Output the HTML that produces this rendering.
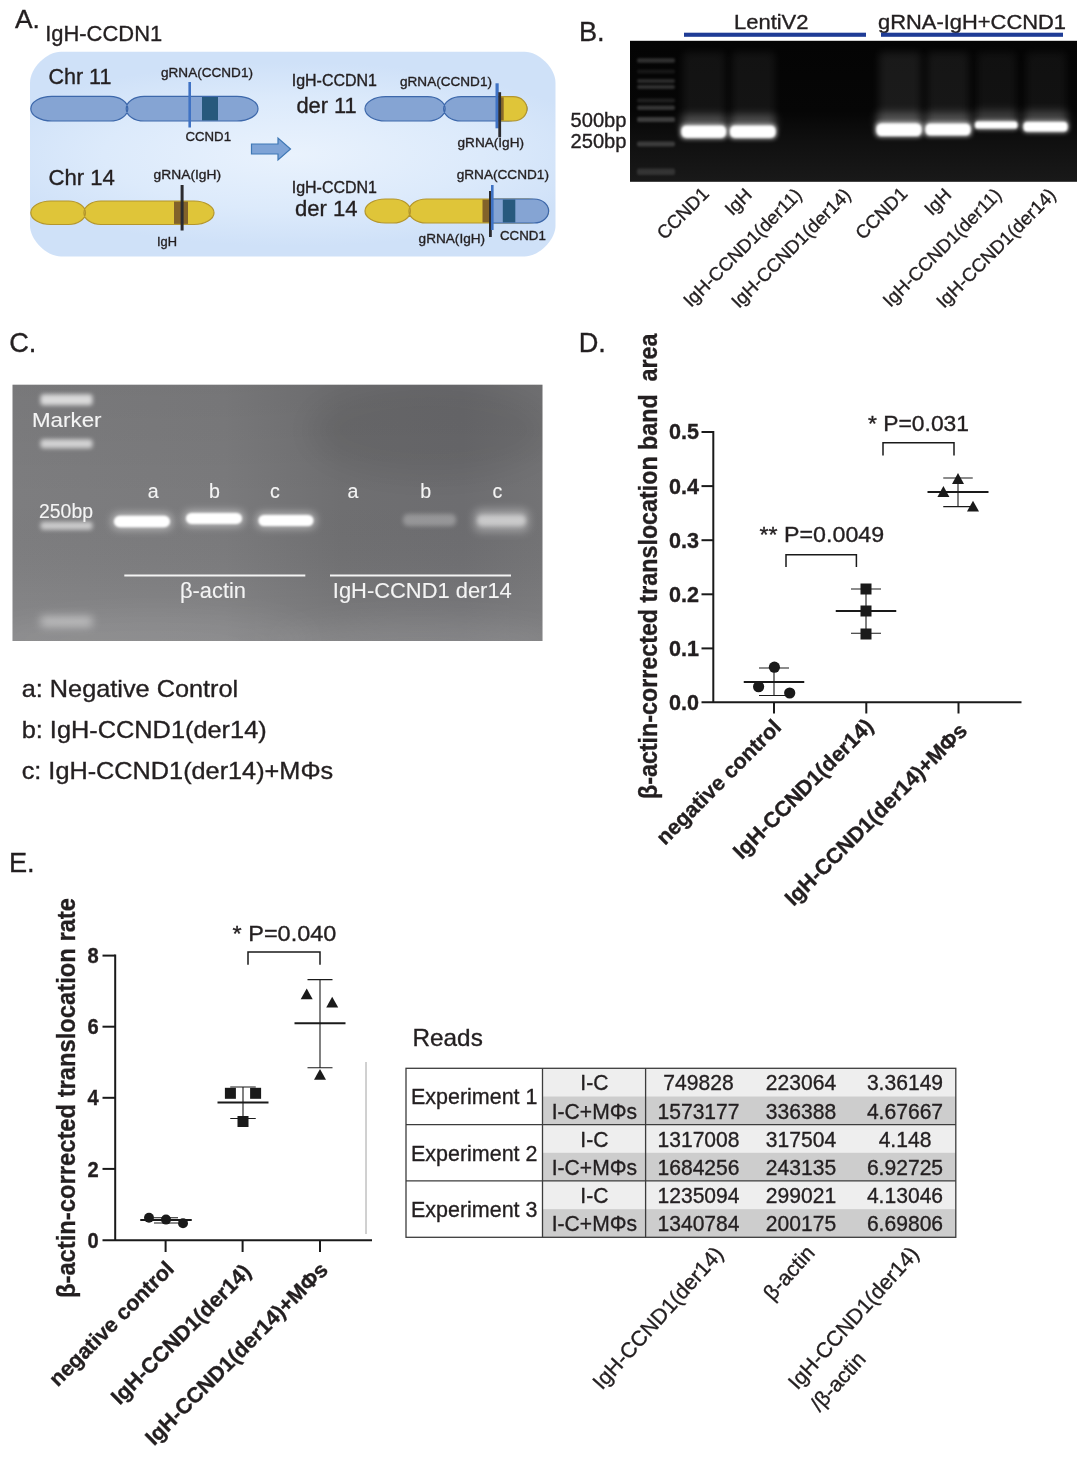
<!DOCTYPE html>
<html lang="en"><head><meta charset="utf-8"><title>IgH-CCND1 translocation figure</title>
<style>
html,body{margin:0;padding:0;background:#fff;}
svg{display:block;font-family:"Liberation Sans",sans-serif;}
</style></head><body>
<svg width="1080" height="1458" viewBox="0 0 1080 1458">
<defs>
<radialGradient id="boxg" cx="50%" cy="50%" r="60%" gradientTransform="translate(0.5 0.5) scale(1 0.75) translate(-0.5 -0.5)">
<stop offset="0" stop-color="#e9f2fd"/><stop offset="0.6" stop-color="#dceafb"/><stop offset="1" stop-color="#cfe1f8"/></radialGradient>
<filter id="b1" x="-20%" y="-100%" width="140%" height="300%"><feGaussianBlur stdDeviation="1.2"/></filter>
<filter id="b2" x="-20%" y="-150%" width="140%" height="400%"><feGaussianBlur stdDeviation="2.2"/></filter>
<filter id="b3" x="-30%" y="-200%" width="160%" height="500%"><feGaussianBlur stdDeviation="4"/></filter>
<filter id="b6" x="-30%" y="-300%" width="160%" height="700%"><feGaussianBlur stdDeviation="7"/></filter>
<filter id="b12" x="-50%" y="-50%" width="200%" height="200%"><feGaussianBlur stdDeviation="14"/></filter>
<linearGradient id="gelc" x1="0" y1="0" x2="1" y2="0">
<stop offset="0" stop-color="#7d7d7f"/><stop offset="0.4" stop-color="#7a7a7c"/><stop offset="0.62" stop-color="#6f6f71"/><stop offset="0.85" stop-color="#6d6d70"/><stop offset="1" stop-color="#737375"/></linearGradient>
<linearGradient id="gelcv" x1="0" y1="0" x2="0" y2="1">
<stop offset="0" stop-color="#000" stop-opacity="0.04"/><stop offset="0.45" stop-color="#000" stop-opacity="0"/><stop offset="0.8" stop-color="#fff" stop-opacity="0.04"/><stop offset="1" stop-color="#fff" stop-opacity="0.09"/></linearGradient>
<linearGradient id="gelb" x1="0" y1="0" x2="0" y2="1">
<stop offset="0" stop-color="#040404"/><stop offset="0.5" stop-color="#060606"/><stop offset="0.72" stop-color="#101010"/><stop offset="1" stop-color="#191919"/></linearGradient>
<clipPath id="clipB"><rect x="630" y="40.8" width="447" height="141"/></clipPath>
<clipPath id="clipC"><rect x="12.5" y="384.7" width="530" height="256.3"/></clipPath>
</defs>
<rect width="1080" height="1458" fill="#ffffff"/>

<g id="panelA">
<text x="15" y="27.8" font-size="26.4" fill="#231f20" stroke="#231f20" stroke-width="0.35">A.</text>
<text x="45.2" y="40.7" font-size="22.3" fill="#231f20" stroke="#231f20" stroke-width="0.35" textLength="117" lengthAdjust="spacingAndGlyphs">IgH-CCDN1</text>
<path d="M61,51.7 L524.5,51.7 C539.07,51.7 555.5,68.13000000000001 555.5,82.7 L555.5,225.39999999999998 C555.5,239.96999999999997 539.07,256.4 524.5,256.4 L61,256.4 C46.43,256.4 30,239.96999999999997 30,225.39999999999998 L30,82.7 C30,68.13000000000001 46.43,51.7 61,51.7 Z" fill="url(#boxg)"/>
<text x="48.4" y="84.2" font-size="22.3" fill="#231f20" stroke="#231f20" stroke-width="0.35" textLength="63" lengthAdjust="spacingAndGlyphs">Chr 11</text>
<text x="161" y="77.2" font-size="13.5" fill="#231f20" stroke="#231f20" stroke-width="0.35" textLength="92" lengthAdjust="spacingAndGlyphs">gRNA(CCND1)</text>
<path d="M51.80,96.3 L109.89,96.3 C119.78,96.3 127.80,101.83 127.80,108.65 C127.80,115.47 119.78,121 109.89,121 L51.80,121 C40.20,121 30.80,115.47 30.80,108.65 C30.80,101.83 40.20,96.3 51.80,96.3 Z M144.11,96.3 L237.00,96.3 C248.60,96.3 258.00,101.83 258.00,108.65 C258.00,115.47 248.60,121 237.00,121 L144.11,121 C134.22,121 126.20,115.47 126.20,108.65 C126.20,101.83 134.22,96.3 144.11,96.3 Z" fill="#85a4d3" stroke="#3d68ab" stroke-width="1.2"/>
<rect x="202" y="97" width="16" height="23.4" fill="#27597d"/>
<rect x="188.4" y="82" width="2.6" height="45.5" fill="#3f72c4"/>
<text x="185.5" y="141" font-size="13.5" fill="#231f20" stroke="#231f20" stroke-width="0.35" textLength="45.5" lengthAdjust="spacingAndGlyphs">CCND1</text>
<path d="M251.5,144 L278,144 L278,138 L290.5,149 L278,160 L278,154 L251.5,154 Z" fill="#7ea3d6" stroke="#3f78b5" stroke-width="1.2"/>
<text x="48.4" y="185" font-size="22.3" fill="#231f20" stroke="#231f20" stroke-width="0.35" textLength="66.5" lengthAdjust="spacingAndGlyphs">Chr 14</text>
<text x="153.6" y="178.6" font-size="13.5" fill="#231f20" stroke="#231f20" stroke-width="0.35" textLength="67.5" lengthAdjust="spacingAndGlyphs">gRNA(IgH)</text>
<path d="M50.77,201 L68.46,201 C77.87,201 85.50,206.26 85.50,212.75 C85.50,219.24 77.87,224.5 68.46,224.5 L50.77,224.5 C39.74,224.5 30.80,219.24 30.80,212.75 C30.80,206.26 39.74,201 50.77,201 Z M100.94,201 L194.03,201 C205.06,201 214.00,206.26 214.00,212.75 C214.00,219.24 205.06,224.5 194.03,224.5 L100.94,224.5 C91.53,224.5 83.90,219.24 83.90,212.75 C83.90,206.26 91.53,201 100.94,201 Z" fill="#dfc539" stroke="#b4962c" stroke-width="1.2"/>
<rect x="174" y="201.6" width="14" height="22.3" fill="#82622a"/>
<rect x="180.6" y="185" width="3" height="45.5" fill="#2b2b2f"/>
<text x="157" y="246" font-size="13.5" fill="#231f20" stroke="#231f20" stroke-width="0.35" textLength="20" lengthAdjust="spacingAndGlyphs">IgH</text>
<text x="291.7" y="85.5" font-size="16" fill="#231f20" stroke="#231f20" stroke-width="0.35" textLength="85.3" lengthAdjust="spacingAndGlyphs">IgH-CCDN1</text>
<text x="296.4" y="113.3" font-size="21.5" fill="#231f20" stroke="#231f20" stroke-width="0.35" textLength="60.3" lengthAdjust="spacingAndGlyphs">der 11</text>
<text x="400" y="85.5" font-size="13.5" fill="#231f20" stroke="#231f20" stroke-width="0.35" textLength="92" lengthAdjust="spacingAndGlyphs">gRNA(CCND1)</text>
<path d="M385.65,96.7 L427.58,96.7 C437.31,96.7 445.20,102.14 445.20,108.85 C445.20,115.56 437.31,121 427.58,121 L385.65,121 C374.25,121 365.00,115.56 365.00,108.85 C365.00,102.14 374.25,96.7 385.65,96.7 Z M461.22,96.7 L506.35,96.7 C517.75,96.7 527.00,102.14 527.00,108.85 C527.00,115.56 517.75,121 506.35,121 L461.22,121 C451.49,121 443.60,115.56 443.60,108.85 C443.60,102.14 451.49,96.7 461.22,96.7 Z" fill="#85a4d3" stroke="#3d68ab" stroke-width="1.2"/>
<path d="M500,96.7 L513,96.7 C522,96.7 527,103 527,108.85 C527,114.7 522,121 513,121 L500,121 Z" fill="#dfc539" stroke="#b4962c" stroke-width="1.2"/>
<rect x="500.5" y="97.3" width="3.2" height="23.1" fill="#8a6a2a"/>
<rect x="495.5" y="83.3" width="3.2" height="45" fill="#3f72c4"/>
<rect x="498.3" y="92.2" width="2.8" height="45" fill="#2b2b2f"/>
<text x="457.5" y="147" font-size="13.5" fill="#231f20" stroke="#231f20" stroke-width="0.35" textLength="66.5" lengthAdjust="spacingAndGlyphs">gRNA(IgH)</text>
<text x="456.7" y="178.6" font-size="13.5" fill="#231f20" stroke="#231f20" stroke-width="0.35" textLength="92.3" lengthAdjust="spacingAndGlyphs">gRNA(CCND1)</text>
<text x="291.7" y="192.5" font-size="16" fill="#231f20" stroke="#231f20" stroke-width="0.35" textLength="85.3" lengthAdjust="spacingAndGlyphs">IgH-CCDN1</text>
<text x="295" y="215.5" font-size="21.5" fill="#231f20" stroke="#231f20" stroke-width="0.35" textLength="62.5" lengthAdjust="spacingAndGlyphs">der 14</text>
<path d="M385.40,199 L393.10,199 C402.71,199 410.50,204.37 410.50,211.0 C410.50,217.63 402.71,223 393.10,223 L385.40,223 C374.13,223 365.00,217.63 365.00,211.0 C365.00,204.37 374.13,199 385.40,199 Z M426.30,199 L528.20,199 C539.47,199 548.60,204.37 548.60,211.0 C548.60,217.63 539.47,223 528.20,223 L426.30,223 C416.69,223 408.90,217.63 408.90,211.0 C408.90,204.37 416.69,199 426.30,199 Z" fill="#dfc539" stroke="#b4962c" stroke-width="1.2"/>
<path d="M492,199 L534,199 C543,199 548.6,205 548.6,211 C548.6,217 543,223 534,223 L492,223 Z" fill="#85a4d3" stroke="#3d68ab" stroke-width="1.2"/>
<rect x="502.8" y="199.6" width="12.5" height="22.8" fill="#27597d"/>
<rect x="482.5" y="199.6" width="7" height="22.8" fill="#82622a"/>
<rect x="489" y="191" width="2.8" height="46" fill="#2b2b2f"/>
<rect x="491" y="185" width="2.6" height="45" fill="#3f72c4"/>
<text x="418.6" y="242.5" font-size="13.5" fill="#231f20" stroke="#231f20" stroke-width="0.35" textLength="66.5" lengthAdjust="spacingAndGlyphs">gRNA(IgH)</text>
<text x="500" y="239.7" font-size="13.5" fill="#231f20" stroke="#231f20" stroke-width="0.35" textLength="45.8" lengthAdjust="spacingAndGlyphs">CCND1</text>
</g>
<g id="panelB">
<text x="578.9" y="40.9" font-size="27.2" fill="#231f20" stroke="#231f20" stroke-width="0.35">B.</text>
<text x="734" y="28.8" font-size="20.6" fill="#231f20" stroke="#231f20" stroke-width="0.35" textLength="74.5" lengthAdjust="spacingAndGlyphs">LentiV2</text>
<text x="878" y="28.6" font-size="20.6" fill="#231f20" stroke="#231f20" stroke-width="0.35" textLength="188" lengthAdjust="spacingAndGlyphs">gRNA-IgH+CCND1</text>
<rect x="684" y="32.7" width="182" height="4.1" fill="#1f3c96"/>
<rect x="881" y="32.7" width="182" height="4.1" fill="#1f3c96"/>
<text x="570.5" y="127" font-size="19.6" fill="#231f20" stroke="#231f20" stroke-width="0.35" textLength="56" lengthAdjust="spacingAndGlyphs">500bp</text>
<text x="570.5" y="147.8" font-size="19.6" fill="#231f20" stroke="#231f20" stroke-width="0.35" textLength="56" lengthAdjust="spacingAndGlyphs">250bp</text>
<rect x="630" y="40.8" width="447" height="141" fill="url(#gelb)"/>
<g clip-path="url(#clipB)">
<rect x="683" y="52" width="42" height="78" fill="#fff" opacity="0.06" filter="url(#b3)"/>
<rect x="732" y="52" width="43" height="78" fill="#fff" opacity="0.06" filter="url(#b3)"/>
<rect x="879" y="52" width="42" height="78" fill="#fff" opacity="0.085" filter="url(#b3)"/>
<rect x="927" y="52" width="42" height="78" fill="#fff" opacity="0.07" filter="url(#b3)"/>
<rect x="977" y="52" width="39" height="78" fill="#fff" opacity="0.05" filter="url(#b3)"/>
<rect x="1026" y="52" width="40" height="78" fill="#fff" opacity="0.05" filter="url(#b3)"/>
<rect x="637" y="58.25" width="38" height="4.5" rx="2" fill="#fff" opacity="0.17" filter="url(#b1)"/>
<rect x="637" y="69.5" width="38" height="4" rx="2" fill="#fff" opacity="0.07" filter="url(#b1)"/>
<rect x="637" y="79.0" width="38" height="4" rx="2" fill="#fff" opacity="0.15" filter="url(#b1)"/>
<rect x="637" y="85.0" width="38" height="4" rx="2" fill="#fff" opacity="0.17" filter="url(#b1)"/>
<rect x="637" y="98.5" width="38" height="4" rx="2" fill="#fff" opacity="0.1" filter="url(#b1)"/>
<rect x="637" y="105.55" width="38" height="4.5" rx="2" fill="#fff" opacity="0.19" filter="url(#b1)"/>
<rect x="637" y="116.9" width="38" height="5" rx="2" fill="#fff" opacity="0.21" filter="url(#b1)"/>
<rect x="637" y="141.5" width="38" height="5" rx="2" fill="#fff" opacity="0.18" filter="url(#b1)"/>
<rect x="637" y="168.45" width="38" height="6.5" rx="2" fill="#fff" opacity="0.12" filter="url(#b1)"/>
<rect x="681.5" y="114.69999999999999" width="44.5" height="17.0" rx="4" fill="#fff" opacity="0.24" filter="url(#b3)"/>
<rect x="680.0" y="124.19999999999999" width="47.5" height="15" rx="5" fill="#fff" opacity="0.60" filter="url(#b2)"/>
<rect x="681.5" y="125.69999999999999" width="44.5" height="12" rx="5.0" fill="#fff" filter="url(#b1)"/>
<rect x="730" y="114.69999999999999" width="45.5" height="17.0" rx="4" fill="#fff" opacity="0.24" filter="url(#b3)"/>
<rect x="728.5" y="124.19999999999999" width="48.5" height="15" rx="5" fill="#fff" opacity="0.60" filter="url(#b2)"/>
<rect x="730" y="125.69999999999999" width="45.5" height="12" rx="5.0" fill="#fff" filter="url(#b1)"/>
<rect x="876.5" y="112.55000000000001" width="45.0" height="17.25" rx="4" fill="#fff" opacity="0.24" filter="url(#b3)"/>
<rect x="875.0" y="122.05000000000001" width="48.0" height="15.5" rx="5" fill="#fff" opacity="0.60" filter="url(#b2)"/>
<rect x="876.5" y="123.55000000000001" width="45.0" height="12.5" rx="5.2" fill="#fff" filter="url(#b1)"/>
<rect x="925.5" y="112.85" width="45.0" height="16.75" rx="4" fill="#fff" opacity="0.24" filter="url(#b3)"/>
<rect x="924.0" y="122.35" width="48.0" height="14.5" rx="5" fill="#fff" opacity="0.60" filter="url(#b2)"/>
<rect x="925.5" y="123.85" width="45.0" height="11.5" rx="4.8" fill="#fff" filter="url(#b1)"/>
<rect x="975" y="110.6" width="42.5" height="14.5" rx="4" fill="#fff" opacity="0.18" filter="url(#b3)"/>
<rect x="973.5" y="120.1" width="45.5" height="10" rx="5" fill="#fff" opacity="0.45" filter="url(#b2)"/>
<rect x="975" y="121.6" width="42.5" height="7" rx="2.9" fill="#fff" filter="url(#b1)"/>
<rect x="1023.5" y="111.05" width="44.0" height="15.75" rx="4" fill="#fff" opacity="0.21" filter="url(#b3)"/>
<rect x="1022.0" y="120.55" width="47.0" height="12.5" rx="5" fill="#fff" opacity="0.52" filter="url(#b2)"/>
<rect x="1023.5" y="122.05" width="44.0" height="9.5" rx="4.0" fill="#fff" filter="url(#b1)"/>
</g>
<text x="710" y="195" font-size="18.7" fill="#231f20" stroke="#231f20" stroke-width="0.35" text-anchor="end" transform="rotate(-45 710 195)">CCND1</text>
<text x="753" y="196" font-size="18.7" fill="#231f20" stroke="#231f20" stroke-width="0.35" text-anchor="end" transform="rotate(-45 753 196)">IgH</text>
<text x="803" y="196" font-size="18.7" fill="#231f20" stroke="#231f20" stroke-width="0.35" text-anchor="end" transform="rotate(-45 803 196)">IgH-CCND1(der11)</text>
<text x="852" y="196" font-size="18.7" fill="#231f20" stroke="#231f20" stroke-width="0.35" text-anchor="end" transform="rotate(-45 852 196)">IgH-CCND1(der14)</text>
<text x="908.5" y="195" font-size="18.7" fill="#231f20" stroke="#231f20" stroke-width="0.35" text-anchor="end" transform="rotate(-45 908.5 195)">CCND1</text>
<text x="952.5" y="196" font-size="18.7" fill="#231f20" stroke="#231f20" stroke-width="0.35" text-anchor="end" transform="rotate(-45 952.5 196)">IgH</text>
<text x="1002.6" y="196" font-size="18.7" fill="#231f20" stroke="#231f20" stroke-width="0.35" text-anchor="end" transform="rotate(-45 1002.6 196)">IgH-CCND1(der11)</text>
<text x="1057" y="196" font-size="18.7" fill="#231f20" stroke="#231f20" stroke-width="0.35" text-anchor="end" transform="rotate(-45 1057 196)">IgH-CCND1(der14)</text>
</g>
<g id="panelC">
<text x="9.2" y="351.8" font-size="27.2" fill="#231f20" stroke="#231f20" stroke-width="0.35">C.</text>
<rect x="12.5" y="384.7" width="530" height="256.3" fill="url(#gelc)"/>
<rect x="12.5" y="384.7" width="530" height="256.3" fill="url(#gelcv)"/>
<g clip-path="url(#clipC)">
<ellipse cx="430" cy="430" rx="120" ry="45" fill="#000" opacity="0.06" filter="url(#b12)"/>
<ellipse cx="150" cy="640" rx="160" ry="30" fill="#fff" opacity="0.06" filter="url(#b12)"/>
<ellipse cx="420" cy="645" rx="140" ry="25" fill="#fff" opacity="0.08" filter="url(#b12)"/>
<rect x="40.5" y="394.3" width="52" height="11" rx="3" fill="#fff" opacity="0.72" filter="url(#b2)"/>
<rect x="40.5" y="439.3" width="52" height="9" rx="3" fill="#fff" opacity="0.66" filter="url(#b2)"/>
<rect x="40.5" y="521.8" width="52" height="8" rx="3" fill="#fff" opacity="0.6" filter="url(#b2)"/>
<rect x="40.5" y="615.9" width="52" height="11" rx="3" fill="#fff" opacity="0.42" filter="url(#b3)"/>
<rect x="112" y="513.75" width="60" height="15.5" rx="6" fill="#fff" opacity="0.5" filter="url(#b3)"/>
<rect x="114" y="515.75" width="56" height="11.5" rx="5.75" fill="#fff" filter="url(#b1)"/>
<rect x="184" y="510.9" width="60" height="15" rx="6" fill="#fff" opacity="0.5" filter="url(#b3)"/>
<rect x="186" y="512.9" width="56" height="11" rx="5.5" fill="#fff" filter="url(#b1)"/>
<rect x="256.5" y="513.0" width="59.0" height="15" rx="6" fill="#fff" opacity="0.5" filter="url(#b3)"/>
<rect x="258.5" y="515.0" width="55.0" height="11" rx="5.5" fill="#fff" filter="url(#b1)"/>
<rect x="403" y="514" width="53" height="12" rx="5" fill="#fff" opacity="0.28" filter="url(#b2)"/>
<rect x="474" y="509" width="55" height="23" rx="7" fill="#fff" opacity="0.32" filter="url(#b3)"/>
<rect x="477" y="515" width="49" height="11" rx="5" fill="#fff" opacity="0.45" filter="url(#b2)"/>
</g>
<text x="32" y="427" font-size="20.6" fill="#f4f4f4" stroke="#f4f4f4" stroke-width="0.12" textLength="69.5" lengthAdjust="spacingAndGlyphs">Marker</text>
<text x="39" y="517.8" font-size="19.6" fill="#f4f4f4" stroke="#f4f4f4" stroke-width="0.12" textLength="54" lengthAdjust="spacingAndGlyphs">250bp</text>
<text x="153.3" y="497.8" font-size="19.6" fill="#f4f4f4" stroke="#f4f4f4" stroke-width="0.12" text-anchor="middle">a</text>
<text x="214.4" y="497.8" font-size="19.6" fill="#f4f4f4" stroke="#f4f4f4" stroke-width="0.12" text-anchor="middle">b</text>
<text x="275" y="497.8" font-size="19.6" fill="#f4f4f4" stroke="#f4f4f4" stroke-width="0.12" text-anchor="middle">c</text>
<text x="353" y="497.8" font-size="19.6" fill="#f4f4f4" stroke="#f4f4f4" stroke-width="0.12" text-anchor="middle">a</text>
<text x="425.8" y="497.8" font-size="19.6" fill="#f4f4f4" stroke="#f4f4f4" stroke-width="0.12" text-anchor="middle">b</text>
<text x="497.5" y="497.8" font-size="19.6" fill="#f4f4f4" stroke="#f4f4f4" stroke-width="0.12" text-anchor="middle">c</text>
<rect x="124.3" y="574.5" width="181" height="2" fill="#f4f4f4"/>
<rect x="330" y="574.5" width="181" height="2" fill="#f4f4f4"/>
<text x="180" y="597.8" font-size="21.8" fill="#f4f4f4" stroke="#f4f4f4" stroke-width="0.12" textLength="66" lengthAdjust="spacingAndGlyphs">β-actin</text>
<text x="332.8" y="598.3" font-size="21.8" fill="#f4f4f4" stroke="#f4f4f4" stroke-width="0.12" textLength="179" lengthAdjust="spacingAndGlyphs">IgH-CCND1 der14</text>
<text x="21.7" y="697.3" font-size="24" fill="#231f20" stroke="#231f20" stroke-width="0.35" textLength="216.5" lengthAdjust="spacingAndGlyphs">a: Negative Control</text>
<text x="21.7" y="738.3" font-size="24" fill="#231f20" stroke="#231f20" stroke-width="0.35" textLength="245" lengthAdjust="spacingAndGlyphs">b: IgH-CCND1(der14)</text>
<text x="21.7" y="779.3" font-size="24" fill="#231f20" stroke="#231f20" stroke-width="0.35" textLength="311.5" lengthAdjust="spacingAndGlyphs">c: IgH-CCND1(der14)+MΦs</text>
</g>
<g id="panelD">
<text x="578.7" y="351.9" font-size="27.2" fill="#231f20" stroke="#231f20" stroke-width="0.35">D.</text>
<path d="M713.3,431 L713.3,702.3 M701.5,702.3 L1021.5,702.3" stroke="#1a1a1a" stroke-width="2" fill="none"/>
<path d="M701.5,432.0 L713.3,432.0" stroke="#1a1a1a" stroke-width="2"/>
<text x="699" y="439.4" font-size="21.2" font-weight="bold" fill="#231f20" stroke="#231f20" stroke-width="0.35" text-anchor="end" textLength="30" lengthAdjust="spacingAndGlyphs">0.5</text>
<path d="M701.5,486.1 L713.3,486.1" stroke="#1a1a1a" stroke-width="2"/>
<text x="699" y="493.5" font-size="21.2" font-weight="bold" fill="#231f20" stroke="#231f20" stroke-width="0.35" text-anchor="end" textLength="30" lengthAdjust="spacingAndGlyphs">0.4</text>
<path d="M701.5,540.2 L713.3,540.2" stroke="#1a1a1a" stroke-width="2"/>
<text x="699" y="547.6" font-size="21.2" font-weight="bold" fill="#231f20" stroke="#231f20" stroke-width="0.35" text-anchor="end" textLength="30" lengthAdjust="spacingAndGlyphs">0.3</text>
<path d="M701.5,594.3 L713.3,594.3" stroke="#1a1a1a" stroke-width="2"/>
<text x="699" y="601.7" font-size="21.2" font-weight="bold" fill="#231f20" stroke="#231f20" stroke-width="0.35" text-anchor="end" textLength="30" lengthAdjust="spacingAndGlyphs">0.2</text>
<path d="M701.5,648.4 L713.3,648.4" stroke="#1a1a1a" stroke-width="2"/>
<text x="699" y="655.8" font-size="21.2" font-weight="bold" fill="#231f20" stroke="#231f20" stroke-width="0.35" text-anchor="end" textLength="30" lengthAdjust="spacingAndGlyphs">0.1</text>
<text x="699" y="709.9" font-size="21.2" font-weight="bold" fill="#231f20" stroke="#231f20" stroke-width="0.35" text-anchor="end" textLength="30" lengthAdjust="spacingAndGlyphs">0.0</text>
<path d="M774,702.3 L774,713.5" stroke="#1a1a1a" stroke-width="2"/>
<path d="M866.3,702.3 L866.3,713.5" stroke="#1a1a1a" stroke-width="2"/>
<path d="M958.5,702.3 L958.5,713.5" stroke="#1a1a1a" stroke-width="2"/>
<text x="657" y="799" font-size="25.8" font-weight="bold" fill="#231f20" stroke="#231f20" stroke-width="0.35" textLength="465.5" lengthAdjust="spacingAndGlyphs" transform="rotate(-90 657 799)" xml:space="preserve">β-actin-corrected translocation band  area</text>
<path d="M774,668 L774,695.5 M759.0,668 L789.0,668 M759.0,695.5 L789.0,695.5" stroke="#1a1a1a" stroke-width="1.1" fill="none"/>
<path d="M743.75,682 L804.25,682" stroke="#1a1a1a" stroke-width="2" fill="none"/>
<circle cx="774.4" cy="667.2" r="5.6" fill="#1a1a1a"/>
<circle cx="758.6" cy="686.7" r="5.6" fill="#1a1a1a"/>
<circle cx="789.7" cy="693" r="5.6" fill="#1a1a1a"/>
<path d="M866,589 L866,633.3 M851.0,589 L881.0,589 M851.0,633.3 L881.0,633.3" stroke="#1a1a1a" stroke-width="1.1" fill="none"/>
<path d="M835.75,611 L896.25,611" stroke="#1a1a1a" stroke-width="2" fill="none"/>
<rect x="860.5" y="583.5" width="11" height="11" fill="#1a1a1a"/>
<rect x="860.5" y="605.5" width="11" height="11" fill="#1a1a1a"/>
<rect x="860.5" y="628.5" width="11" height="11" fill="#1a1a1a"/>
<path d="M958,478 L958,506.6 M943.25,478 L972.75,478 M943.25,506.6 L972.75,506.6" stroke="#1a1a1a" stroke-width="1.1" fill="none"/>
<path d="M927.5,492 L988.5,492" stroke="#1a1a1a" stroke-width="2" fill="none"/>
<path d="M958,473.1 L964.0,483.9 L952.0,483.9 Z" fill="#1a1a1a"/>
<path d="M943.4,486.1 L949.4,496.9 L937.4,496.9 Z" fill="#1a1a1a"/>
<path d="M973,500.7 L979.0,511.5 L967.0,511.5 Z" fill="#1a1a1a"/>
<path d="M786,567 L786,554.7 L856.4,554.7 L856.4,567" stroke="#1a1a1a" stroke-width="1.5" fill="none"/>
<path d="M883,455.6 L883,442.7 L954,442.7 L954,455.6" stroke="#1a1a1a" stroke-width="1.5" fill="none"/>
<text x="759.6" y="542" font-size="22.3" fill="#231f20" stroke="#231f20" stroke-width="0.35" textLength="124.5" lengthAdjust="spacingAndGlyphs">** P=0.0049</text>
<text x="868" y="431" font-size="22.3" fill="#231f20" stroke="#231f20" stroke-width="0.35" textLength="101" lengthAdjust="spacingAndGlyphs">* P=0.031</text>
<text x="782.5" y="728.5" font-size="21.5" font-weight="bold" fill="#231f20" stroke="#231f20" stroke-width="0.35" text-anchor="end" transform="rotate(-45 782.5 728.5)">negative control</text>
<text x="874.5" y="727.5" font-size="21.5" font-weight="bold" fill="#231f20" stroke="#231f20" stroke-width="0.35" text-anchor="end" transform="rotate(-45 874.5 727.5)">IgH-CCND1(der14)</text>
<text x="968.5" y="732" font-size="21.5" font-weight="bold" fill="#231f20" stroke="#231f20" stroke-width="0.35" text-anchor="end" transform="rotate(-45 968.5 732)">IgH-CCND1(der14)+MΦs</text>
</g>
<g id="panelE">
<text x="8.9" y="871.9" font-size="27.2" fill="#231f20" stroke="#231f20" stroke-width="0.35">E.</text>
<path d="M115.2,954.6 L115.2,1240.3 M102.5,1240.3 L372,1240.3" stroke="#1a1a1a" stroke-width="2" fill="none"/>
<path d="M102.5,955.6 L115.2,955.6" stroke="#1a1a1a" stroke-width="2"/>
<text x="98.6" y="963.2" font-size="22" font-weight="bold" fill="#231f20" stroke="#231f20" stroke-width="0.35" text-anchor="end" textLength="11.2" lengthAdjust="spacingAndGlyphs">8</text>
<path d="M102.5,1026.7 L115.2,1026.7" stroke="#1a1a1a" stroke-width="2"/>
<text x="98.6" y="1034.3" font-size="22" font-weight="bold" fill="#231f20" stroke="#231f20" stroke-width="0.35" text-anchor="end" textLength="11.2" lengthAdjust="spacingAndGlyphs">6</text>
<path d="M102.5,1097.8 L115.2,1097.8" stroke="#1a1a1a" stroke-width="2"/>
<text x="98.6" y="1105.4" font-size="22" font-weight="bold" fill="#231f20" stroke="#231f20" stroke-width="0.35" text-anchor="end" textLength="11.2" lengthAdjust="spacingAndGlyphs">4</text>
<path d="M102.5,1168.9 L115.2,1168.9" stroke="#1a1a1a" stroke-width="2"/>
<text x="98.6" y="1176.5" font-size="22" font-weight="bold" fill="#231f20" stroke="#231f20" stroke-width="0.35" text-anchor="end" textLength="11.2" lengthAdjust="spacingAndGlyphs">2</text>
<text x="98.6" y="1247.6" font-size="22" font-weight="bold" fill="#231f20" stroke="#231f20" stroke-width="0.35" text-anchor="end" textLength="11.2" lengthAdjust="spacingAndGlyphs">0</text>
<path d="M165.6,1240.3 L165.6,1252" stroke="#1a1a1a" stroke-width="2"/>
<path d="M242.6,1240.3 L242.6,1252" stroke="#1a1a1a" stroke-width="2"/>
<path d="M320,1240.3 L320,1252" stroke="#1a1a1a" stroke-width="2"/>
<text x="75.3" y="1298" font-size="25.6" font-weight="bold" fill="#231f20" stroke="#231f20" stroke-width="0.35" textLength="400" lengthAdjust="spacingAndGlyphs" transform="rotate(-90 75.3 1298)">β-actin-corrected translocation rate</text>
<path d="M366,1062 L366,1234" stroke="#8c8c8c" stroke-width="0.8"/>
<path d="M166,1217.8 L166,1223 M154.0,1217.8 L178.0,1217.8 M154.0,1223 L178.0,1223" stroke="#1a1a1a" stroke-width="1.1" fill="none"/>
<path d="M140.25,1220 L191.75,1220" stroke="#1a1a1a" stroke-width="2" fill="none"/>
<circle cx="149" cy="1217.8" r="5" fill="#1a1a1a"/>
<circle cx="166" cy="1219.6" r="5" fill="#1a1a1a"/>
<circle cx="183" cy="1223.3" r="5" fill="#1a1a1a"/>
<path d="M243,1087 L243,1118.5 M230.25,1087 L255.75,1087 M230.25,1118.5 L255.75,1118.5" stroke="#1a1a1a" stroke-width="1.1" fill="none"/>
<path d="M217.5,1102.6 L268.5,1102.6" stroke="#1a1a1a" stroke-width="2" fill="none"/>
<rect x="224.9" y="1087.8" width="11" height="11" fill="#1a1a1a"/>
<rect x="250.1" y="1087.8" width="11" height="11" fill="#1a1a1a"/>
<rect x="237.5" y="1116.0" width="11" height="11" fill="#1a1a1a"/>
<path d="M320,979.6 L320,1067.8 M307.5,979.6 L332.5,979.6 M307.5,1067.8 L332.5,1067.8" stroke="#1a1a1a" stroke-width="1.1" fill="none"/>
<path d="M294.5,1023.3 L345.5,1023.3" stroke="#1a1a1a" stroke-width="2" fill="none"/>
<path d="M306.7,988.5 L312.7,999.3 L300.7,999.3 Z" fill="#1a1a1a"/>
<path d="M332.2,996.7 L338.2,1007.5 L326.2,1007.5 Z" fill="#1a1a1a"/>
<path d="M320,1068.9 L326.0,1079.7 L314.0,1079.7 Z" fill="#1a1a1a"/>
<path d="M248,964.8 L248,951.9 L320,951.9 L320,964.8" stroke="#1a1a1a" stroke-width="1.5" fill="none"/>
<text x="232.6" y="940.7" font-size="22.3" fill="#231f20" stroke="#231f20" stroke-width="0.35" textLength="103.7" lengthAdjust="spacingAndGlyphs">* P=0.040</text>
<text x="175.3" y="1270.2" font-size="21.5" font-weight="bold" fill="#231f20" stroke="#231f20" stroke-width="0.35" text-anchor="end" transform="rotate(-45 175.3 1270.2)">negative control</text>
<text x="252.4" y="1273" font-size="21.5" font-weight="bold" fill="#231f20" stroke="#231f20" stroke-width="0.35" text-anchor="end" transform="rotate(-45 252.4 1273)">IgH-CCND1(der14)</text>
<text x="329.1" y="1271.3" font-size="21.5" font-weight="bold" fill="#231f20" stroke="#231f20" stroke-width="0.35" text-anchor="end" transform="rotate(-45 329.1 1271.3)">IgH-CCND1(der14)+MΦs</text>
</g>
<g id="reads">
<text x="412.5" y="1045.6" font-size="23.6" fill="#231f20" stroke="#231f20" stroke-width="0.35" textLength="70.3" lengthAdjust="spacingAndGlyphs">Reads</text>
<rect x="542.5" y="1068.30" width="413.29999999999995" height="28.47" fill="#eeeeee"/>
<rect x="542.5" y="1096.47" width="413.29999999999995" height="28.47" fill="#cdcdcd"/>
<rect x="542.5" y="1124.63" width="413.29999999999995" height="28.47" fill="#eeeeee"/>
<rect x="542.5" y="1152.80" width="413.29999999999995" height="28.47" fill="#cdcdcd"/>
<rect x="542.5" y="1180.97" width="413.29999999999995" height="28.47" fill="#eeeeee"/>
<rect x="542.5" y="1209.13" width="413.29999999999995" height="28.47" fill="#cdcdcd"/>
<rect x="406" y="1068.3" width="549.8" height="169.0" fill="none" stroke="#3c3c3c" stroke-width="1.3"/>
<path d="M542.5,1068.3 L542.5,1237.3 M645.6,1068.3 L645.6,1237.3 M406,1124.63 L955.8,1124.63 M406,1180.97 L955.8,1180.97" stroke="#3c3c3c" stroke-width="1.3" fill="none"/>
<text x="594.4" y="1090.4" font-size="22.3" fill="#231f20" stroke="#231f20" stroke-width="0.35" text-anchor="middle" textLength="28.1" lengthAdjust="spacingAndGlyphs">I-C</text>
<text x="698.5" y="1090.4" font-size="22.3" fill="#231f20" stroke="#231f20" stroke-width="0.35" text-anchor="middle" textLength="70.3" lengthAdjust="spacingAndGlyphs">749828</text>
<text x="801" y="1090.4" font-size="22.3" fill="#231f20" stroke="#231f20" stroke-width="0.35" text-anchor="middle" textLength="70.3" lengthAdjust="spacingAndGlyphs">223064</text>
<text x="905" y="1090.4" font-size="22.3" fill="#231f20" stroke="#231f20" stroke-width="0.35" text-anchor="middle" textLength="76.2" lengthAdjust="spacingAndGlyphs">3.36149</text>
<text x="594.4" y="1118.5" font-size="22.3" fill="#231f20" stroke="#231f20" stroke-width="0.35" text-anchor="middle" textLength="85.3" lengthAdjust="spacingAndGlyphs">I-C+MΦs</text>
<text x="698.5" y="1118.5" font-size="22.3" fill="#231f20" stroke="#231f20" stroke-width="0.35" text-anchor="middle" textLength="82.0" lengthAdjust="spacingAndGlyphs">1573177</text>
<text x="801" y="1118.5" font-size="22.3" fill="#231f20" stroke="#231f20" stroke-width="0.35" text-anchor="middle" textLength="70.3" lengthAdjust="spacingAndGlyphs">336388</text>
<text x="905" y="1118.5" font-size="22.3" fill="#231f20" stroke="#231f20" stroke-width="0.35" text-anchor="middle" textLength="76.2" lengthAdjust="spacingAndGlyphs">4.67667</text>
<text x="594.4" y="1146.5" font-size="22.3" fill="#231f20" stroke="#231f20" stroke-width="0.35" text-anchor="middle" textLength="28.1" lengthAdjust="spacingAndGlyphs">I-C</text>
<text x="698.5" y="1146.5" font-size="22.3" fill="#231f20" stroke="#231f20" stroke-width="0.35" text-anchor="middle" textLength="82.0" lengthAdjust="spacingAndGlyphs">1317008</text>
<text x="801" y="1146.5" font-size="22.3" fill="#231f20" stroke="#231f20" stroke-width="0.35" text-anchor="middle" textLength="70.3" lengthAdjust="spacingAndGlyphs">317504</text>
<text x="905" y="1146.5" font-size="22.3" fill="#231f20" stroke="#231f20" stroke-width="0.35" text-anchor="middle" textLength="52.7" lengthAdjust="spacingAndGlyphs">4.148</text>
<text x="594.4" y="1174.6" font-size="22.3" fill="#231f20" stroke="#231f20" stroke-width="0.35" text-anchor="middle" textLength="85.3" lengthAdjust="spacingAndGlyphs">I-C+MΦs</text>
<text x="698.5" y="1174.6" font-size="22.3" fill="#231f20" stroke="#231f20" stroke-width="0.35" text-anchor="middle" textLength="82.0" lengthAdjust="spacingAndGlyphs">1684256</text>
<text x="801" y="1174.6" font-size="22.3" fill="#231f20" stroke="#231f20" stroke-width="0.35" text-anchor="middle" textLength="70.3" lengthAdjust="spacingAndGlyphs">243135</text>
<text x="905" y="1174.6" font-size="22.3" fill="#231f20" stroke="#231f20" stroke-width="0.35" text-anchor="middle" textLength="76.2" lengthAdjust="spacingAndGlyphs">6.92725</text>
<text x="594.4" y="1202.8" font-size="22.3" fill="#231f20" stroke="#231f20" stroke-width="0.35" text-anchor="middle" textLength="28.1" lengthAdjust="spacingAndGlyphs">I-C</text>
<text x="698.5" y="1202.8" font-size="22.3" fill="#231f20" stroke="#231f20" stroke-width="0.35" text-anchor="middle" textLength="82.0" lengthAdjust="spacingAndGlyphs">1235094</text>
<text x="801" y="1202.8" font-size="22.3" fill="#231f20" stroke="#231f20" stroke-width="0.35" text-anchor="middle" textLength="70.3" lengthAdjust="spacingAndGlyphs">299021</text>
<text x="905" y="1202.8" font-size="22.3" fill="#231f20" stroke="#231f20" stroke-width="0.35" text-anchor="middle" textLength="76.2" lengthAdjust="spacingAndGlyphs">4.13046</text>
<text x="594.4" y="1231" font-size="22.3" fill="#231f20" stroke="#231f20" stroke-width="0.35" text-anchor="middle" textLength="85.3" lengthAdjust="spacingAndGlyphs">I-C+MΦs</text>
<text x="698.5" y="1231" font-size="22.3" fill="#231f20" stroke="#231f20" stroke-width="0.35" text-anchor="middle" textLength="82.0" lengthAdjust="spacingAndGlyphs">1340784</text>
<text x="801" y="1231" font-size="22.3" fill="#231f20" stroke="#231f20" stroke-width="0.35" text-anchor="middle" textLength="70.3" lengthAdjust="spacingAndGlyphs">200175</text>
<text x="905" y="1231" font-size="22.3" fill="#231f20" stroke="#231f20" stroke-width="0.35" text-anchor="middle" textLength="76.2" lengthAdjust="spacingAndGlyphs">6.69806</text>
<text x="411" y="1104.4" font-size="22.3" fill="#231f20" stroke="#231f20" stroke-width="0.35" textLength="126.5" lengthAdjust="spacingAndGlyphs">Experiment 1</text>
<text x="411" y="1160.8" font-size="22.3" fill="#231f20" stroke="#231f20" stroke-width="0.35" textLength="126.5" lengthAdjust="spacingAndGlyphs">Experiment 2</text>
<text x="411" y="1217" font-size="22.3" fill="#231f20" stroke="#231f20" stroke-width="0.35" textLength="126.5" lengthAdjust="spacingAndGlyphs">Experiment 3</text>
<text x="724.5" y="1254.7" font-size="21.4" fill="#231f20" stroke="#231f20" stroke-width="0.35" text-anchor="end" transform="rotate(-48 724.5 1254.7)">IgH-CCND1(der14)</text>
<text x="816" y="1253.7" font-size="21.4" fill="#231f20" stroke="#231f20" stroke-width="0.35" text-anchor="end" transform="rotate(-48 816 1253.7)">β-actin</text>
<text x="920" y="1254.7" font-size="21.4" fill="#231f20" stroke="#231f20" stroke-width="0.35" text-anchor="end" transform="rotate(-48 920 1254.7)">IgH-CCND1(der14)</text>
<text x="867" y="1360" font-size="21.4" fill="#231f20" stroke="#231f20" stroke-width="0.35" text-anchor="end" transform="rotate(-48 867 1360)">/β-actin</text>
</g>
</svg>
</body></html>
